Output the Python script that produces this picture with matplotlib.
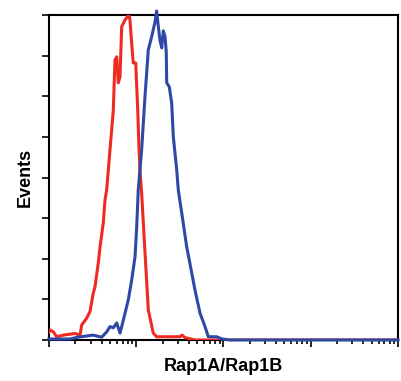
import matplotlib
matplotlib.use("Agg")
import matplotlib.pyplot as plt
import numpy as np

# Data (fluorescence intensity, event counts)
red_x = [1.0, 1.027, 1.12, 1.225, 1.459, 1.986, 2.265, 2.371, 2.704, 2.951, 3.221, 3.365,
         3.673, 3.846, 4.188, 4.385, 4.581, 5.0, 5.458, 5.702, 5.970, 6.223, 6.516, 6.808,
         7.430, 7.980, 8.110, 8.472, 8.851, 9.247, 9.863, 10.40, 10.76, 11.04, 11.53, 12.05,
         12.94, 13.74, 15.67, 17.14, 31.70, 33.42, 36.22, 47.10, 10000]
red_y = [2.0, 2.5, 2.0, 0.8, 1.2, 1.6, 1.2, 3.7, 5.4, 7.0, 11.6, 13.1,
         19.0, 23.0, 28.8, 34.5, 36.9, 46.8, 56.6, 68.9, 69.7, 63.3, 64.8, 77.1,
         78.8, 79.6, 81.0, 78.8, 73.1, 68.2, 68.2, 56.6, 46.8, 41.8, 36.2, 28.8,
         17.2, 7.4, 1.7, 0.8, 0.8, 1.2, 0.6, 0, 0]

blue_x = [1.0, 1.742, 2.148, 3.192, 4.018, 4.581, 5.0, 5.458, 5.970, 6.516, 7.112, 8.110,
          8.872, 9.683, 10.12, 10.54, 11.53, 12.59, 13.74, 15.03, 16.41, 17.14, 17.91, 18.71,
          19.59, 20.42, 21.38, 22.08, 22.34, 23.93, 25.47, 26.61, 29.11, 30.34, 33.19, 37.84,
          43.25, 47.10, 53.83, 61.38, 66.99, 83.56, 96.16, 118.6, 10000]
blue_y = [0.25, 0.25, 0.7, 1.2, 0.7, 2.0, 3.3, 3.0, 4.2, 1.7, 4.9, 9.9,
          14.8, 20.5, 27.9, 36.9, 46.8, 59.9, 71.4, 74.7, 78.3, 81.0, 77.1, 73.8,
          71.9, 76.1, 74.7, 70.9, 63.3, 62.3, 58.3, 50.0, 41.8, 36.9, 31.3, 23.0,
          16.5, 12.3, 6.6, 3.3, 0.8, 0.8, 0.25, 0, 0]

x_label = "Rap1A/Rap1B"
y_label = "Events"

fam = ["Liberation Sans", "DejaVu Sans"]

fig = plt.figure(figsize=(4.01, 3.81), dpi=100)
ax = fig.add_axes([49/401, 41/381, 349/401, 325/381])

ax.plot(red_x, red_y, color="#ee2a22", lw=2.2, zorder=3)
ax.plot(blue_x, blue_y, color="#2f48a5", lw=2.2, clip_on=False, zorder=4)

ax.set_xscale("log")
ax.set_xlim(1, 10000)
ax.set_ylim(0, 80)
ax.set_yticks(np.arange(0, 81, 10))
ax.set_xticks([1, 10, 100, 1000, 10000])
ax.tick_params(axis="both", which="both", direction="out", labelbottom=False, labelleft=False,
               width=1.2, color="black")
ax.tick_params(axis="x", which="major", length=5)
ax.tick_params(axis="x", which="minor", length=3)
ax.tick_params(axis="y", which="major", length=5)
for s in ax.spines.values():
    s.set_linewidth(1.5)

ax.set_xlabel(x_label, family=fam, fontweight="bold", fontsize=13, labelpad=8)
ax.set_ylabel(y_label, family=fam, fontweight="bold", fontsize=13, labelpad=6)

fig.savefig("out.png", dpi=100)
